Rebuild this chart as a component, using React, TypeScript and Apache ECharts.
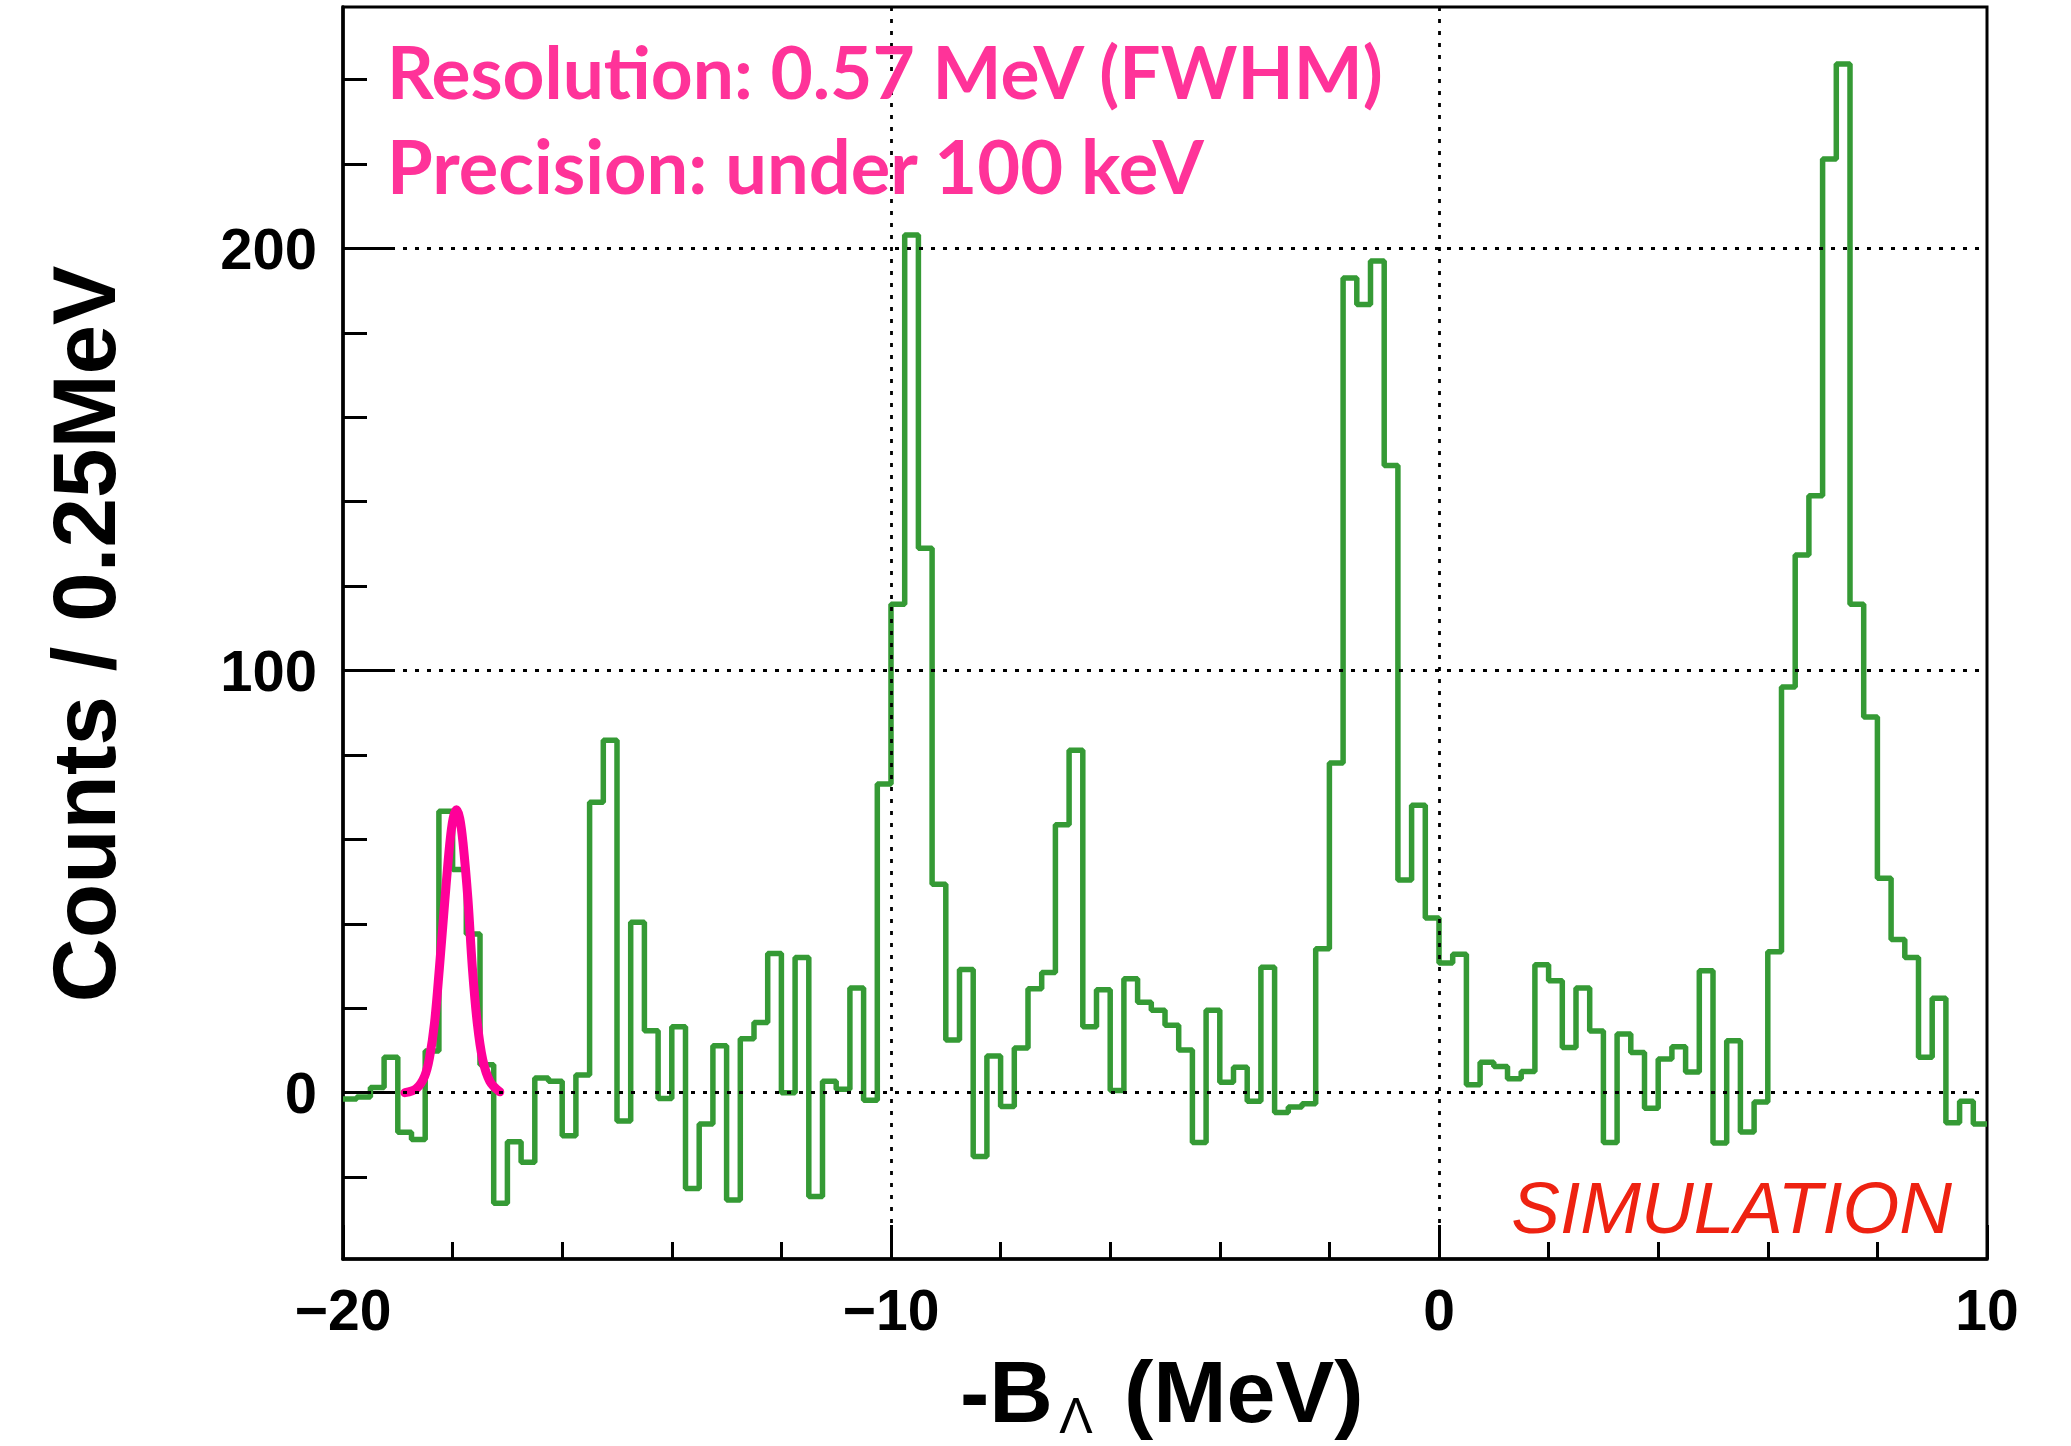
import React, { useEffect, useRef } from "react";
import * as echarts from "echarts";

// Histogram: 120 bins of 0.25 MeV from -20 to 10 MeV
const binStart = -20;
const binWidth = 0.25;
const counts = [
  -1.5, -1, 1.2, 8.4, -9.4, -11.1, 9.9, 66.7, 52.9, 37.6,
  6.6, -26.2, -11.6, -16.5, 3.5, 2.7, -10.2, 4.2, 68.8, 83.5,
  -6.7, 40.4, 14.7, -1.4, 15.6, -22.7, -7.4, 11.1, -25.4, 12.8,
  16.6, 33.0, 0, 32.0, -24.6, 2.7, 0.8, 24.8, -1.8, 73.1,
  115.7, 203.2, 129.0, 49.4, 12.5, 29.2, -15.1, 8.7, -3.3, 10.6,
  24.6, 28.5, 63.5, 81.1, 15.6, 24.4, 0.5, 27.0, 21.4, 19.5,
  16.0, 10.1, -11.8, 19.5, 2.5, 6.0, -2.0, 29.7, -4.7, -3.4,
  -2.6, 34.1, 78.1, 193.0, 186.7, 197.0, 148.6, 50.4, 68.1, 41.4,
  30.7, 32.8, 1.9, 7.2, 6.2, 3.3, 5.0, 30.3, 26.5, 10.7,
  24.8, 14.6, -11.8, 13.9, 9.5, -3.7, 8.0, 10.9, 4.9, 28.9,
  -11.9, 12.3, -9.3, -2.2, 33.4, 96.1, 127.4, 141.4, 221.2, 243.7,
  115.7, 89.0, 50.8, 36.3, 32.0, 8.4, 22.4, -7.1, -2.0, -7.4,
];

// Fitted peak curve
const gaussX = [-18.87, -18.66, -18.51, -18.42, -18.33, -18.24, -18.14, -18.05, -17.99, -17.93, -17.87, -17.81, -17.72, -17.64, -17.55, -17.45, -17.32, -17.14];
const gaussY = [0, 1.0, 3.9, 8.4, 16.5, 29.7, 45.8, 59.2, 65.0, 67.0, 65.0, 59.2, 45.8, 29.7, 16.5, 7.8, 2.7, 0.2];

const xMin = -20;
const xMax = 10;
const xMajorStep = 10;
const yMin = -39.4;
const yMax = 257.2;
const yLabelValues = [0, 100, 200];
const yMinorValues = [-20, 20, 40, 60, 80, 120, 140, 160, 180, 220, 240];
const xGridValues = [-10, 0];
const yGridValues = [0, 100, 200];

const infoLines = ["Resolution: 0.57 MeV (FWHM)", "Precision: under 100 keV"];
const stamp = "SIMULATION";
const yTitle = "Counts / 0.25MeV";
const xTitleMain = "-B";
const xTitleSub = "\u039B";
const xTitleUnit = "(MeV)";

const HELV = '"Liberation Sans", Arial, sans-serif';

export default function App() {
  const ref = useRef<HTMLDivElement>(null);

  useEffect(() => {
    const chart = echarts.init(ref.current!, null, { renderer: "svg" });

    const histData: number[][] = counts.map((c, i) => [binStart + i * binWidth, c]);
    histData.push([binStart + counts.length * binWidth, counts[counts.length - 1]]);
    const gaussData = gaussX.map((x, i) => [x, gaussY[i]]);

    const gridLines = [
      ...yGridValues.map((v) => ({ yAxis: v })),
      ...xGridValues.map((v) => ({ xAxis: v })),
    ];

    chart.setOption({
      animation: false,
      backgroundColor: "#ffffff",
      grid: {
        left: 343,
        right: 84,
        top: 7,
        bottom: 187,
        show: true,
        borderColor: "#000",
        borderWidth: 3,
        backgroundColor: "transparent",
      },
      xAxis: {
        type: "value",
        min: xMin,
        max: xMax,
        interval: xMajorStep,
        axisLine: { show: true, onZero: false, lineStyle: { color: "#000", width: 3.5 } },
        axisTick: { show: true, inside: true, length: 34, lineStyle: { color: "#000", width: 3 } },
        minorTick: { show: true, splitNumber: 5, length: 17, lineStyle: { color: "#000", width: 3 } },
        axisLabel: {
          fontSize: 57,
          fontWeight: "bold",
          fontFamily: HELV,
          color: "#000",
          margin: 22,
          formatter: (v: number) => (v < 0 ? "\u2212" + Math.abs(v) : String(v)),
        },
        splitLine: { show: false },
        minorSplitLine: { show: false },
      },
      yAxis: [
        {
          type: "value",
          min: yMin,
          max: yMax,
          position: "left",
          axisLine: { show: true, onZero: false, lineStyle: { color: "#000", width: 3.5 } },
          axisTick: { show: true, inside: true, length: 50, customValues: yLabelValues, lineStyle: { color: "#000", width: 3 } },
          axisLabel: {
            customValues: yLabelValues,
            fontSize: 58,
            fontWeight: "bold",
            fontFamily: HELV,
            color: "#000",
            margin: 26,
          },
          splitLine: { show: false },
        },
        {
          type: "value",
          min: yMin,
          max: yMax,
          position: "left",
          offset: 0,
          axisLine: { show: false, onZero: false },
          axisTick: { show: true, inside: true, length: 24, customValues: yMinorValues, lineStyle: { color: "#000", width: 3 } },
          axisLabel: { show: false },
          splitLine: { show: false },
        },
      ],
      series: [
        {
          type: "line",
          data: [],
          silent: true,
          z: 1,
          markLine: {
            silent: true,
            symbol: ["none", "none"],
            label: { show: false },
            lineStyle: { color: "#000", width: 2.8, type: [4, 8] },
            data: gridLines,
          },
        },
        {
          type: "line",
          step: "end",
          data: histData,
          showSymbol: false,
          symbol: "none",
          z: 3,
          lineStyle: { color: "#359a35", width: 5.5 },
        },
        {
          type: "line",
          data: gaussData,
          smooth: 0.35,
          showSymbol: false,
          symbol: "none",
          z: 4,
          lineStyle: { color: "#ff0099", width: 9, cap: "round" },
        },
      ],
      graphic: [
        {
          type: "text",
          x: 387,
          y: 71,
          z: 10,
          style: { text: infoLines[0], fill: "#ff3399", font: "bold 73px Lato", textAlign: "left", textVerticalAlign: "middle" },
        },
        {
          type: "text",
          x: 387,
          y: 165,
          z: 10,
          style: { text: infoLines[1], fill: "#ff3399", font: "bold 74px Lato", textAlign: "left", textVerticalAlign: "middle" },
        },
        {
          type: "text",
          x: 1952,
          y: 1207,
          z: 10,
          style: { text: stamp, fill: "#ee2211", font: `italic 73px ${HELV}`, textAlign: "right", textVerticalAlign: "middle" },
        },
        {
          type: "text",
          x: 84,
          y: 634,
          rotation: Math.PI / 2,
          z: 10,
          style: { text: yTitle, fill: "#000", font: `bold 89px ${HELV}`, textAlign: "center", textVerticalAlign: "middle" },
        },
        {
          type: "text",
          x: 960,
          y: 1391,
          z: 10,
          style: { text: xTitleMain, fill: "#000", font: `bold 88px ${HELV}`, textAlign: "left", textVerticalAlign: "middle" },
        },
        {
          type: "text",
          x: 1076,
          y: 1416,
          z: 10,
          style: { text: xTitleSub, fill: "#000", font: `50px ${HELV}`, textAlign: "center", textVerticalAlign: "middle" },
        },
        {
          type: "text",
          x: 1124,
          y: 1391,
          z: 10,
          style: { text: xTitleUnit, fill: "#000", font: `bold 88px ${HELV}`, textAlign: "left", textVerticalAlign: "middle" },
        },
      ],
    });

    return () => chart.dispose();
  }, []);

  return (
    <div
      ref={ref}
      style={{ position: "fixed", left: 0, top: 0, width: 2071, height: 1446, background: "#fff" }}
    />
  );
}
